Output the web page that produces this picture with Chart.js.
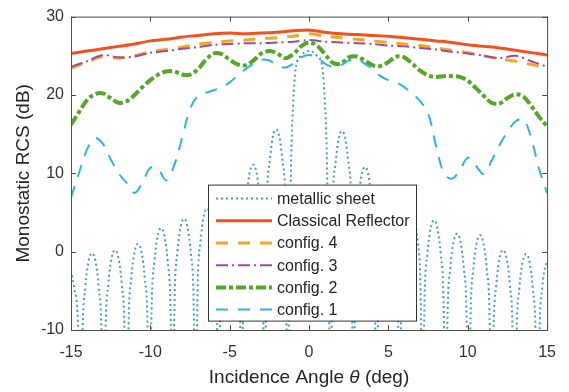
<!DOCTYPE html>
<html>
<head>
<meta charset="utf-8">
<script src="https://cdn.jsdelivr.net/npm/chart.js@4.4.1/dist/chart.umd.min.js"></script>
<style>
    html, body { margin: 0; padding: 0; background: #fff; }
</style>
</head>
<body>
<canvas id="rcsChart" width="569" height="392"></canvas>
<script>
// angles (deg) for the smooth config curves
const fineAngles = [-15, -14.5, -14, -13.5, -13, -12.5, -12, -11.5, -11, -10.5, -10, -9.5, -9, -8.5, -8, -7.5, -7, -6.5, -6, -5.5,
    -5, -4.5, -4, -3.5, -3, -2.5, -2, -1.5, -1, -0.5, 0, 0.5, 1, 1.5, 2, 2.5, 3, 3.5, 4, 4.5,
    5, 5.5, 6, 6.5, 7, 7.5, 8, 8.5, 9, 9.5, 10, 10.5, 11, 11.5, 12, 12.5, 13, 13.5, 14, 14.5, 15];
const config2Rcs = [16.2, 17.8, 19.3, 20.1, 20.2, 19.6, 19.0, 19.2, 20.0, 21.0, 21.9, 22.6, 23.0, 23.0, 22.6, 22.6, 23.3, 24.5, 25.3, 25.2,
    24.5, 23.9, 23.8, 24.4, 25.3, 25.6, 25.3, 24.7, 25.2, 26.2, 26.7, 26.3, 25.2, 24.1, 24.0, 24.8, 24.9, 24.4, 23.8, 23.7,
    24.2, 24.9, 24.8, 24.0, 23.1, 22.5, 22.3, 22.4, 22.4, 22.3, 21.8, 20.9, 19.9, 19.0, 18.9, 19.6, 20.1, 19.8, 18.6, 17.2, 16.0];
const config1Rcs = [6.9, 10.0, 13.0, 14.5, 13.8, 11.8, 10.0, 8.8, 7.5, 8.8, 10.7, 10.5, 9.1, 11.0, 14.5, 18.2, 19.9, 20.3, 20.6, 21.0,
    21.6, 22.5, 23.3, 24.0, 24.5, 24.4, 23.8, 23.5, 24.0, 24.8, 25.1, 24.8, 24.0, 23.6, 23.8, 24.4, 24.6, 24.0, 23.3, 22.4,
    21.9, 21.6, 21.0, 20.2, 19.2, 17.7, 13.5, 10.0, 9.3, 10.4, 12.0, 11.0, 9.9, 11.6, 13.6, 15.3, 16.6, 16.9, 14.5, 10.5, 7.5];

// 1 deg steps for the flat upper curves
const coarseAngles = [-15, -14, -13, -12, -11, -10, -9, -8, -7, -6, -5, -4, -3, -2, -1, 0, 1, 2, 3, 4, 5, 6, 7, 8, 9, 10, 11, 12, 13, 14, 15];
const reflectorRcs = [25.3, 25.6, 25.9, 26.2, 26.5, 26.9, 27.1, 27.4, 27.6, 27.8, 27.9, 27.8, 27.9, 28.0, 28.2, 28.3,
    28.0, 27.8, 27.7, 27.6, 27.5, 27.3, 27.1, 26.9, 26.7, 26.4, 26.2, 26.0, 25.7, 25.4, 25.1];
const config4Rcs = [23.4, 24.2, 24.9, 24.7, 25.0, 25.5, 25.8, 26.1, 26.5, 26.7, 26.9, 27.0, 27.2, 27.3, 27.5, 27.8,
    27.5, 27.3, 27.1, 26.9, 26.7, 26.5, 26.3, 26.0, 25.7, 25.4, 25.0, 24.6, 24.3, 23.9, 23.4];
const config3Rcs = [23.6, 24.3, 25.1, 24.8, 24.9, 25.4, 25.6, 25.9, 26.1, 26.4, 26.5, 26.6, 26.6, 26.7, 26.8, 27.0,
    26.8, 26.7, 26.6, 26.5, 26.3, 26.2, 26.0, 25.8, 25.5, 25.3, 25.0, 24.7, 25.0, 24.3, 23.6];

// metallic sheet lobes (nulls dip far below the axis)
const sheetAngles = [-15, -14.8, -14.5, -14.4,
    -14.3, -14.1, -13.9, -13.675, -13.45, -13.25, -13.05, -12.95,
    -12.85, -12.65, -12.45, -12.225, -12.0, -11.8, -11.6, -11.5,
    -11.4, -11.2, -11.0, -10.775, -10.55, -10.35, -10.15, -10.05,
    -9.95, -9.75, -9.55, -9.325, -9.1, -8.9, -8.7, -8.6,
    -8.5, -8.3, -8.1, -7.875, -7.65, -7.45, -7.25, -7.15,
    -7.05, -6.85, -6.65, -6.425, -6.2, -6.0, -5.8, -5.7,
    -5.6, -5.4, -5.2, -4.975, -4.75, -4.55, -4.35, -4.25,
    -4.15, -3.95, -3.75, -3.525, -3.3, -3.1, -2.9, -2.8,
    -2.7, -2.5, -2.3, -2.075, -1.85, -1.65, -1.45, -1.35,
    -1.25, -1.17, -1.1, -1.0, -0.85, -0.5, 0, 0.5, 0.85, 1.0, 1.1, 1.17, 1.25, 1.35,
    1.45, 1.65, 1.85, 2.075, 2.3, 2.5, 2.7, 2.8,
    2.9, 3.1, 3.3, 3.525, 3.75, 3.95, 4.15, 4.25,
    4.35, 4.55, 4.75, 4.975, 5.2, 5.4, 5.6, 5.7,
    5.8, 6.0, 6.2, 6.425, 6.65, 6.85, 7.05, 7.15,
    7.25, 7.45, 7.65, 7.875, 8.1, 8.3, 8.5, 8.6,
    8.7, 8.9, 9.1, 9.325, 9.55, 9.75, 9.95, 10.05,
    10.15, 10.35, 10.55, 10.775, 11.0, 11.2, 11.4, 11.5,
    11.6, 11.8, 12.0, 12.225, 12.45, 12.65, 12.85, 12.95,
    13.05, 13.25, 13.45, 13.675, 13.9, 14.1, 14.3, 14.4,
    14.5, 14.7, 14.9, 15];
const sheetRcs = [-2.4, -4.6, -13.5, -40,
    -13.6, -4.6, -1.3, -0.2, -1.3, -4.6, -13.6, -40,
    -13.2, -4.2, -0.9, 0.2, -0.9, -4.2, -13.2, -40,
    -12.4, -3.4, -0.1, 1.0, -0.1, -3.4, -12.4, -40,
    -10.4, -1.4, 1.9, 3.0, 1.9, -1.4, -10.4, -40,
    -9.2, -0.2, 3.1, 4.2, 3.1, -0.2, -9.2, -40,
    -7.9, 1.1, 4.4, 5.5, 4.4, 1.1, -7.9, -40,
    -5.9, 3.1, 6.4, 7.5, 6.4, 3.1, -5.9, -40,
    -2.3, 6.7, 10.0, 11.1, 10.0, 6.7, -2.3, -40,
    2.2, 11.2, 14.5, 15.6, 14.5, 11.2, 2.2, -40,
    0, 7, 14, 19, 23.3, 25.0, 25.6, 25.0, 23.3, 19, 14, 7, 0, -40,
    2.0, 11.0, 14.3, 15.4, 14.3, 11.0, 2.0, -40,
    -2.6, 6.4, 9.7, 10.8, 9.7, 6.4, -2.6, -40,
    -5.9, 3.1, 6.4, 7.5, 6.4, 3.1, -5.9, -40,
    -7.8, 1.2, 4.5, 5.6, 4.5, 1.2, -7.8, -40,
    -9.4, -0.4, 2.9, 4.0, 2.9, -0.4, -9.4, -40,
    -11.1, -2.1, 1.2, 2.3, 1.2, -2.1, -11.1, -40,
    -11.3, -2.3, 1.0, 2.1, 1.0, -2.3, -11.3, -40,
    -13.2, -4.2, -0.9, 0.2, -0.9, -4.2, -13.2, -40,
    -13.7, -4.7, -1.4, -0.3, -1.4, -4.7, -13.7, -40,
    -13.5, -4.5, -1.8, -1.5];

const xTicks = [-15, -10, -5, 0, 5, 10, 15];
const yTicks = [-10, 0, 10, 20, 30];
const seriesNames = ['metallic sheet', 'Classical Reflector', 'config. 4', 'config. 3', 'config. 2', 'config. 1'];

const FONT = "'Liberation Sans', Arial, Helvetica, sans-serif";
const INK = '#262626';

const toPoints = (xs, ys) => xs.map((x, i) => ({ x: x, y: ys[i] }));

// box, inward ticks, legend and titles in MATLAB style
const matlabFrame = {
    id: 'matlabFrame',
    afterDatasetsDraw: (chart) => {
        const ctx = chart.ctx;
        const a = chart.chartArea;
        const xs = chart.scales.x;
        const ys = chart.scales.y;
        ctx.save();
        ctx.strokeStyle = '#4d4d4d';
        ctx.lineWidth = 1;
        ctx.setLineDash([]);
        ctx.strokeRect(a.left + 0.5, a.top + 0.5, a.right - a.left, a.bottom - a.top);
        ctx.beginPath();
        xTicks.forEach(v => {
            const px = Math.round(xs.getPixelForValue(v)) + 0.5;
            ctx.moveTo(px, a.bottom); ctx.lineTo(px, a.bottom - 5);
            ctx.moveTo(px, a.top); ctx.lineTo(px, a.top + 5);
        });
        yTicks.forEach(v => {
            const py = Math.round(ys.getPixelForValue(v)) + 0.5;
            ctx.moveTo(a.left, py); ctx.lineTo(a.left + 5, py);
            ctx.moveTo(a.right, py); ctx.lineTo(a.right - 5, py);
        });
        ctx.stroke();

        // legend box inside the plot
        const lx = a.left + 137, ly = a.top + 168, lw = 208, lh = 136;
        ctx.fillStyle = '#fff';
        ctx.fillRect(lx, ly, lw, lh);
        ctx.strokeStyle = '#333';
        ctx.strokeRect(lx + 0.5, ly + 0.5, lw, lh);
        ctx.font = '16px ' + FONT;
        ctx.textBaseline = 'middle';
        ctx.textAlign = 'left';
        chart.data.datasets.forEach((ds, i) => {
            const ry = ly + 14 + i * 22.2;
            ctx.beginPath();
            ctx.strokeStyle = ds.borderColor;
            ctx.lineWidth = ds.borderWidth;
            ctx.setLineDash(ds.borderDash || []);
            ctx.moveTo(lx + 8, ry);
            ctx.lineTo(lx + 64, ry);
            ctx.stroke();
            ctx.fillStyle = INK;
            ctx.fillText(ds.label, lx + 69, ry + 1);
        });
        ctx.restore();
    },
    afterDraw: (chart) => {
        const ctx = chart.ctx;
        const a = chart.chartArea;
        ctx.save();
        ctx.fillStyle = INK;
        ctx.textBaseline = 'middle';
        // x title with italic theta
        const parts = [['Incidence Angle ', 'normal'], ['θ', 'italic'], [' (deg)', 'normal']];
        let total = 0;
        parts.forEach(p => { ctx.font = p[1] + ' 19px ' + FONT; total += ctx.measureText(p[0]).width; });
        let x = (a.left + a.right) / 2 - total / 2;
        parts.forEach(p => {
            ctx.font = p[1] + ' 19px ' + FONT;
            ctx.textAlign = 'left';
            ctx.fillText(p[0], x, 378);
            x += ctx.measureText(p[0]).width;
        });
        // y title
        ctx.translate(24, (a.top + a.bottom) / 2);
        ctx.rotate(-Math.PI / 2);
        ctx.font = '19px ' + FONT;
        ctx.textAlign = 'center';
        ctx.fillText('Monostatic RCS (dB)', 0, 0);
        ctx.restore();
    }
};

const datasets = [
    { data: toPoints(sheetAngles, sheetRcs), borderColor: '#3f9fc6', borderWidth: 2, borderDash: [2, 3], cubicInterpolationMode: 'monotone', order: 5 },
    { data: toPoints(coarseAngles, reflectorRcs), borderColor: '#f4511e', borderWidth: 3, borderDash: [], tension: 0.3, order: 4 },
    { data: toPoints(coarseAngles, config4Rcs), borderColor: '#f5a623', borderWidth: 3, borderDash: [12, 10], tension: 0.3, order: 3 },
    { data: toPoints(coarseAngles, config3Rcs), borderColor: '#a04aa8', borderWidth: 2, borderDash: [12, 4, 2, 4], tension: 0.3, order: 2 },
    { data: toPoints(fineAngles, config2Rcs), borderColor: '#55a825', borderWidth: 4, borderDash: [10, 3, 4, 3], tension: 0.35, order: 1 },
    { data: toPoints(fineAngles, config1Rcs), borderColor: '#2fb6df', borderWidth: 2, borderDash: [12, 10], tension: 0.35, order: 0 }
].map((ds, i) => Object.assign(ds, { label: seriesNames[i], pointRadius: 0, fill: false, clip: 0 }));

new Chart(document.getElementById('rcsChart').getContext('2d'), {
    type: 'line',
    data: { datasets: datasets },
    options: {
        responsive: false,
        animation: false,
        devicePixelRatio: 1,
        layout: { padding: { top: 15, right: 9, left: 0, bottom: 0 } },
        plugins: { legend: { display: false }, tooltip: { enabled: false } },
        scales: {
            x: {
                type: 'linear', min: -15, max: 15,
                afterBuildTicks: s => { s.ticks = xTicks.map(v => ({ value: v })); },
                afterFit: s => { s.height = 62; },
                grid: { display: false, drawTicks: false },
                border: { display: false },
                ticks: { padding: 13, color: '#333', font: { family: FONT, size: 16 } }
            },
            y: {
                type: 'linear', min: -10, max: 30,
                afterBuildTicks: s => { s.ticks = yTicks.map(v => ({ value: v })); },
                afterFit: s => { s.width = 71; },
                grid: { display: false, drawTicks: false },
                border: { display: false },
                ticks: { padding: 7, color: '#333', font: { family: FONT, size: 16 } }
            }
        }
    },
    plugins: [matlabFrame]
});
</script>
</body>
</html>
